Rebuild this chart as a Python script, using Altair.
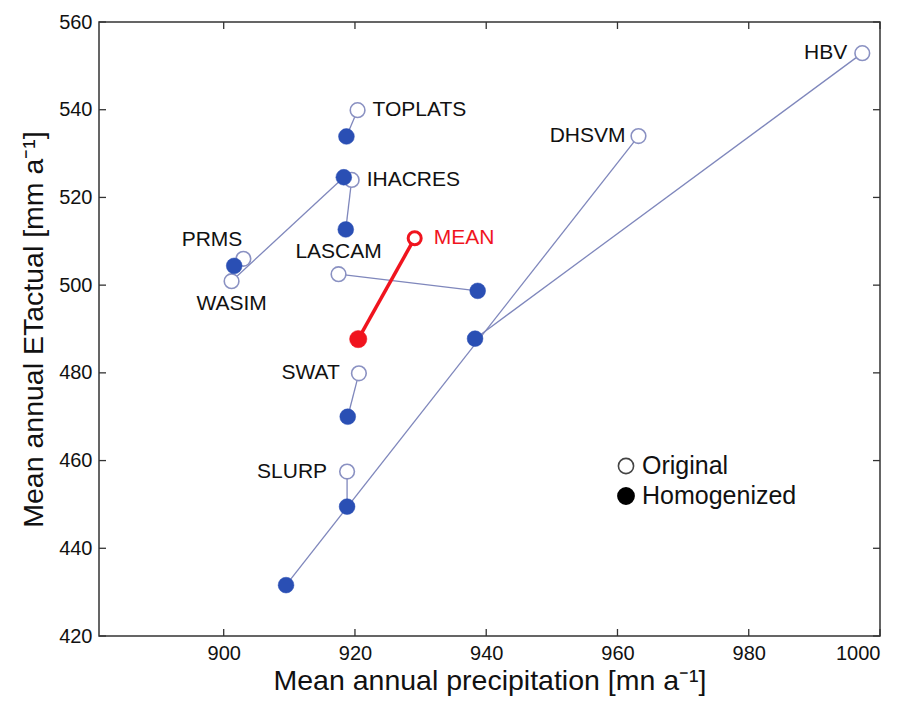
import altair as alt
import pandas as pd

# ---------------- data ----------------
models = ["HBV", "DHSVM", "TOPLATS", "IHACRES", "PRMS", "WASIM", "LASCAM", "SWAT", "SLURP"]
orig_precip = [997.3, 963.2, 920.4, 919.5, 903.0, 901.2, 917.5, 920.6, 918.8]
orig_et = [552.9, 534.0, 539.9, 524.0, 506.0, 500.9, 502.5, 479.9, 457.5]
homog_precip = [938.3, 909.5, 918.7, 918.6, 901.6, 918.3, 938.7, 918.9, 918.8]
homog_et = [487.8, 431.6, 533.9, 512.7, 504.4, 524.6, 498.7, 470.0, 449.5]

mean_label = "MEAN"
mean_precip = [929.1, 920.5]   # original, homogenized
mean_et = [510.7, 487.7]

x_ticks = [900, 920, 940, 960, 980, 1000]
y_ticks = [420, 440, 460, 480, 500, 520, 540, 560]
x_domain = [881, 1000]
y_domain = [420, 560]
legend_labels = ["Original", "Homogenized"]

# ---------------- style ----------------
W, H = 781, 614
FONT = "Liberation Sans"
BLUE = "#2A4FB4"
LINE = "#7F87BC"
OPEN = "#8A91C2"
RED = "#F0141E"
TICK = 7
LABEL_SIZE = 21

label_style = {  # align, dx, dy
    "HBV": ("right", -15, 0),
    "DHSVM": ("right", -13, 0),
    "TOPLATS": ("left", 15, 0),
    "IHACRES": ("left", 15, 0),
    "PRMS": ("right", -1, -19),
    "WASIM": ("center", 0, 23),
    "LASCAM": ("center", 0, -22),
    "SWAT": ("right", -19, 0),
    "SLURP": ("right", -20, 0),
}

df_orig = pd.DataFrame({"model": models, "precip": orig_precip, "et": orig_et,
                        "kind": "Original", "step": 0})
df_hom = pd.DataFrame({"model": models, "precip": homog_precip, "et": homog_et,
                       "kind": "Homogenized", "step": 1})
df_pairs = pd.concat([df_orig, df_hom], ignore_index=True)
df_mean = pd.DataFrame({"model": [mean_label, mean_label], "precip": mean_precip,
                        "et": mean_et, "kind": legend_labels, "step": [0, 1]})

x_axis = alt.Axis(values=x_ticks, format="d", title="Mean annual precipitation [mn a⁻¹]",
                  domain=False, ticks=False, grid=False, labelPadding=7,
                  titlePadding=3)
y_axis = alt.Axis(values=y_ticks, format="d", title="Mean annual ETactual [mm a⁻¹]",
                  domain=False, ticks=False, grid=False, labelPadding=7,
                  titlePadding=10)


def X(field="precip"):
    return alt.X(f"{field}:Q", scale=alt.Scale(domain=x_domain, nice=False, zero=False),
                 axis=x_axis)


def Y(field="et"):
    return alt.Y(f"{field}:Q", scale=alt.Scale(domain=y_domain, nice=False, zero=False),
                 axis=y_axis)


layers = []

# connecting lines
layers.append(
    alt.Chart(df_pairs).mark_line(color=LINE, strokeWidth=1.3).encode(
        x=X(), y=Y(), detail="model:N", order="step:Q")
)
layers.append(
    alt.Chart(df_mean).mark_line(color=RED, strokeWidth=3.5).encode(
        x=X(), y=Y(), order="step:Q")
)

# original (open) points
layers.append(
    alt.Chart(df_orig).mark_point(shape="circle", filled=True, fill="white",
                                  stroke=OPEN, strokeWidth=1.6, size=215, opacity=1).encode(
        x=X(), y=Y())
)
# homogenized (filled) points
layers.append(
    alt.Chart(df_hom).mark_point(shape="circle", filled=True, fill=BLUE,
                                 stroke=BLUE, strokeWidth=0.5, size=250, opacity=1).encode(
        x=X(), y=Y())
)
# mean points
layers.append(
    alt.Chart(df_mean[df_mean["step"] == 0]).mark_point(
        shape="circle", filled=True, fill="white", stroke=RED, strokeWidth=3,
        size=170, opacity=1).encode(x=X(), y=Y())
)
layers.append(
    alt.Chart(df_mean[df_mean["step"] == 1]).mark_point(
        shape="circle", filled=True, fill=RED, stroke=RED, strokeWidth=0.5,
        size=300, opacity=1).encode(x=X(), y=Y())
)

# model labels
for m, (al, dx, dy) in label_style.items():
    layers.append(
        alt.Chart(df_orig).transform_filter(alt.datum.model == m).mark_text(
            align=al, baseline="middle", dx=dx, dy=dy, font=FONT, fontSize=LABEL_SIZE,
            color="#111").encode(x=X(), y=Y(), text="model:N")
    )
layers.append(
    alt.Chart(df_mean[df_mean["step"] == 0]).mark_text(
        align="left", baseline="middle", dx=19, dy=0, font=FONT, fontSize=LABEL_SIZE,
        color=RED).encode(x=X(), y=Y(), text="model:N")
)

# inward ticks on all four sides
df_xt = pd.DataFrame({"precip": x_ticks})
df_yt = pd.DataFrame({"et": y_ticks})
tick_color = "#333"
layers.append(alt.Chart(df_xt).mark_rule(color=tick_color, strokeWidth=1.3).encode(
    x=X(), y=alt.value(H - TICK), y2=alt.value(H)))
layers.append(alt.Chart(df_xt).mark_rule(color=tick_color, strokeWidth=1.3).encode(
    x=X(), y=alt.value(0), y2=alt.value(TICK)))
layers.append(alt.Chart(df_yt).mark_rule(color=tick_color, strokeWidth=1.3).encode(
    y=Y(), x=alt.value(0), x2=alt.value(TICK)))
layers.append(alt.Chart(df_yt).mark_rule(color=tick_color, strokeWidth=1.3).encode(
    y=Y(), x=alt.value(W - TICK), x2=alt.value(W)))

# manual legend
leg_x, leg_y0, leg_dy = 527, 444, 30
layers.append(alt.Chart(pd.DataFrame({"t": [legend_labels[0]]})).mark_point(
    shape="circle", filled=True, fill="white", stroke="#444", strokeWidth=1.6,
    size=230, opacity=1).encode(x=alt.value(leg_x), y=alt.value(leg_y0)))
layers.append(alt.Chart(pd.DataFrame({"t": [legend_labels[1]]})).mark_point(
    shape="circle", filled=True, fill="black", stroke="black", size=250,
    opacity=1).encode(x=alt.value(leg_x), y=alt.value(leg_y0 + leg_dy)))
for i, lab in enumerate(legend_labels):
    layers.append(alt.Chart(pd.DataFrame({"t": [lab]})).mark_text(
        align="left", baseline="middle", font=FONT, fontSize=25, color="#111").encode(
        x=alt.value(leg_x + 16), y=alt.value(leg_y0 + i * leg_dy), text="t:N"))

chart = alt.layer(*layers).properties(
    width=W, height=H,
    autosize=alt.AutoSizeParams(type="none"),
    padding={"left": 91, "top": 14, "right": 15, "bottom": 72},
).configure_view(
    stroke="#333", strokeWidth=1.5
).configure_axis(
    labelFont=FONT, titleFont=FONT, labelFontSize=20, titleFontSize=28.5,
    labelColor="#111", titleColor="#111", titleFontWeight="normal"
)

chart.save("out.html", embed_options={"renderer": "svg", "actions": False})
